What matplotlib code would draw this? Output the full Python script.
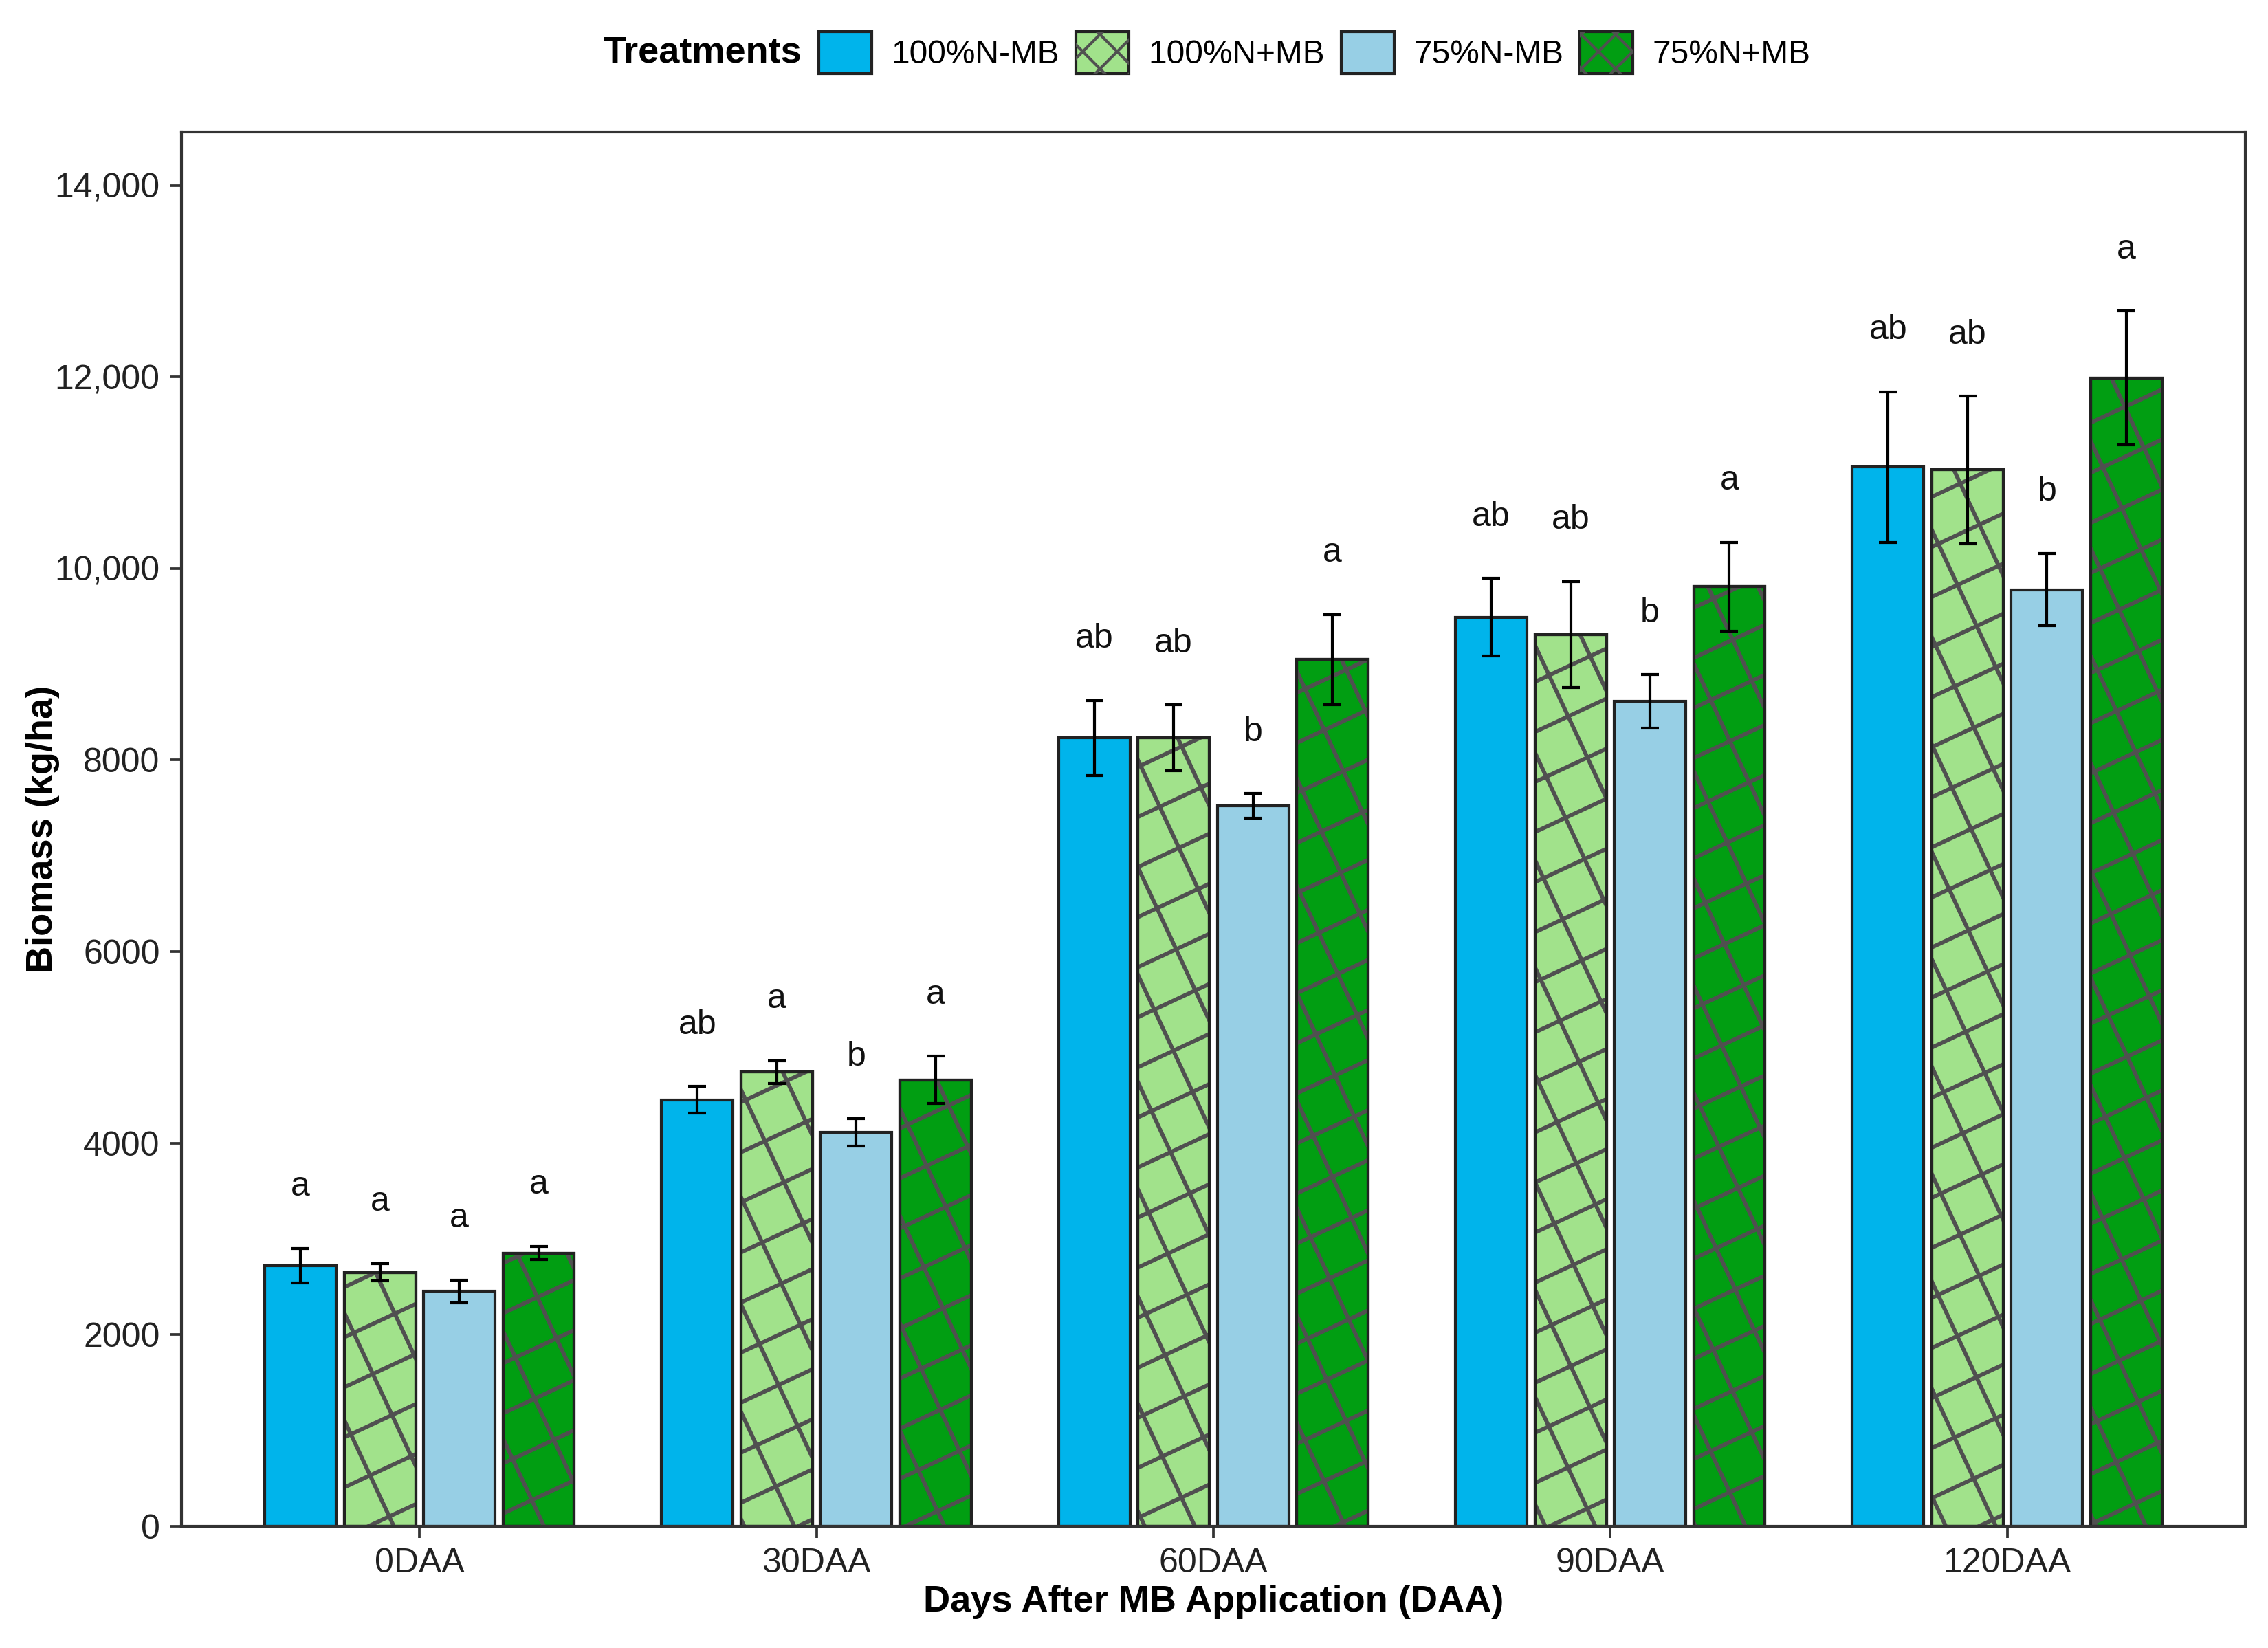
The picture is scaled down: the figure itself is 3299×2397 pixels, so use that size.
import matplotlib
matplotlib.use("Agg")
import matplotlib.pyplot as plt
from matplotlib.lines import Line2D
from matplotlib.patches import Patch
import numpy as np

plt.rcParams['font.family'] = ['Liberation Sans', 'DejaVu Sans']

days = ["0DAA", "30DAA", "60DAA", "90DAA", "120DAA"]
treatments = ["100%N-MB", "100%N+MB", "75%N-MB", "75%N+MB"]

# mean biomass (kg/ha) per treatment, in the order of days
biomass = {
    "100%N-MB": [2720, 4450, 8230, 9490, 11060],
    "100%N+MB": [2650, 4740, 8230, 9310, 11030],
    "75%N-MB": [2450, 4110, 7520, 8610, 9780],
    "75%N+MB": [2850, 4660, 9050, 9810, 11990],
}
errors = {
    "100%N-MB": [180, 140, 390, 405, 785],
    "100%N+MB": [90, 120, 345, 555, 770],
    "75%N-MB": [120, 145, 130, 280, 380],
    "75%N+MB": [70, 245, 470, 465, 700],
}
letters = {
    "100%N-MB": ["a", "ab", "ab", "ab", "ab"],
    "100%N+MB": ["a", "a", "ab", "ab", "ab"],
    "75%N-MB": ["a", "b", "b", "b", "b"],
    "75%N+MB": ["a", "a", "a", "a", "a"],
}

colors = ["#00B4EB", "#A1E28B", "#97CFE5", "#019E12"]
hatched = [False, True, False, True]
hatch_col = "#505050"

yticks = [0, 2000, 4000, 6000, 8000, 10000, 12000, 14000]
ytick_labels = ["0", "2000", "4000", "6000", "8000", "10,000", "12,000", "14,000"]

fig = plt.figure(figsize=(3299 / 300, 2397 / 300), dpi=300)
ax = fig.add_axes([0.080, 0.074, 0.910, 0.846])
ax.set_xlim(-0.6, 4.6)
ax.set_ylim(0, 14560)


def crosshatch(bar, spacing=0.22, angle=25):
    # draw a rotated cross hatch inside a bar (coordinates in inches)
    to_in = ax.transData + fig.dpi_scale_trans.inverted()
    (x0, y0), (x1, y1) = to_in.transform([(bar.get_x(), bar.get_y()),
                                          (bar.get_x() + bar.get_width(), bar.get_y() + bar.get_height())])
    corners = np.array([[x0, y0], [x1, y0], [x0, y1], [x1, y1]])
    mid = corners.mean(axis=0)
    L = np.hypot(x1 - x0, y1 - y0)
    for a in (angle, angle + 90):
        t = np.deg2rad(a)
        d = np.array([np.cos(t), np.sin(t)])
        n = np.array([-np.sin(t), np.cos(t)])
        proj = corners @ n
        for k in np.arange(np.floor(proj.min() / spacing), np.ceil(proj.max() / spacing) + 1):
            base = k * spacing * n + (mid @ d) * d
            p0, p1 = base - L * d, base + L * d
            ln = Line2D([p0[0], p1[0]], [p0[1], p1[1]], transform=fig.dpi_scale_trans,
                        color=hatch_col, lw=1.4, zorder=2.1)
            ax.add_artist(ln)
            ln.set_clip_path(bar)


x = np.arange(len(days))
offsets = [-0.3, -0.1, 0.1, 0.3]
width = 0.18

for i, t in enumerate(treatments):
    xs = x + offsets[i]
    bars = ax.bar(xs, biomass[t], width, color=colors[i], edgecolor="#222222", linewidth=1.0, zorder=2)
    if hatched[i]:
        for b in bars:
            crosshatch(b)
        ax.bar(xs, biomass[t], width, fill=False, edgecolor="#222222", linewidth=1.0, zorder=2.2)
    ax.errorbar(xs, biomass[t], yerr=errors[t], fmt="none", ecolor="black",
                elinewidth=1.0, capsize=3.2, capthick=1.0, zorder=3)
    for xi, v, e, lab in zip(xs, biomass[t], errors[t], letters[t]):
        ax.text(xi, v + e + 550, lab, ha="center", va="baseline", fontsize=12, color="#111111")

ax.set_xlim(-0.6, 4.6)
ax.set_ylim(0, 14560)
ax.set_xticks(x)
ax.set_xticklabels(days, fontsize=12, color="#222222")
ax.set_yticks(yticks)
ax.set_yticklabels(ytick_labels, fontsize=12, color="#222222")
ax.tick_params(length=4, width=0.9, color="#333333")
for s in ax.spines.values():
    s.set_color("#333333")
    s.set_linewidth(1.0)

ax.set_xlabel("Days After MB Application (DAA)", fontsize=13, fontweight="bold", labelpad=2)
ax.set_ylabel("Biomass (kg/ha)", fontsize=13, fontweight="bold")
ax.yaxis.set_label_coords(-0.059, 0.5)

# legend with title on the left
handles = []
for i, t in enumerate(treatments):
    base = Patch(facecolor=colors[i], edgecolor="#222222", linewidth=1.0)
    if hatched[i]:
        hp = Patch(fill=False, hatch="xx", edgecolor=hatch_col, linewidth=0)
        handles.append((base, hp))
    else:
        handles.append(base)
fig.text(0.266, 0.968, "Treatments", fontsize=13, fontweight="bold", ha="left", va="center")
fig.legend(handles, treatments, loc="center left", bbox_to_anchor=(0.361, 0.968), ncol=4,
           frameon=False, fontsize=11.5, handlelength=1.6, handleheight=1.6,
           handletextpad=0.6, columnspacing=0.5, borderaxespad=0, borderpad=0)

fig.savefig("out.png", dpi=300)
